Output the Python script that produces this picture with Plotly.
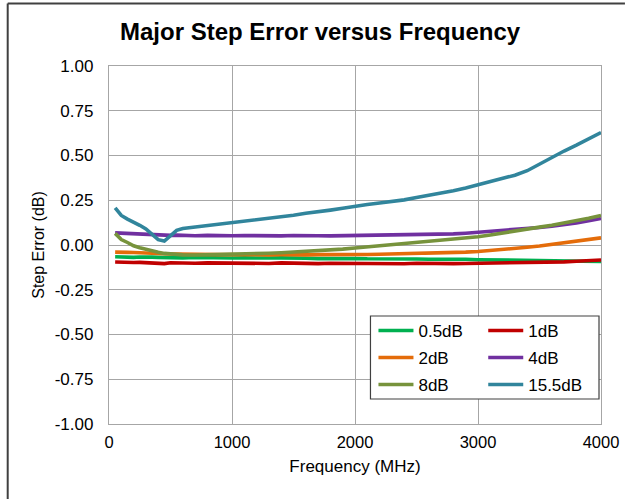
import plotly.graph_objects as go

freq = [50, 100, 150, 200, 250, 300, 350, 400, 450, 500, 550, 600,
        700, 800, 900, 1000, 1100, 1200, 1300, 1400, 1500, 1600, 1700, 1800, 1900, 2000,
        2100, 2200, 2300, 2400, 2500, 2600, 2700, 2800, 2900, 3000,
        3100, 3200, 3300, 3400, 3500, 3600, 3700, 3800, 3900, 4000]

s05 = [-0.066, -0.068, -0.066, -0.069, -0.067, -0.070, -0.068, -0.069, -0.071, -0.069, -0.070, -0.072,
       -0.070, -0.072, -0.071, -0.073, -0.072, -0.074, -0.073, -0.072, -0.075, -0.074, -0.076, -0.074, -0.076, -0.075,
       -0.077, -0.076, -0.078, -0.079, -0.078, -0.080, -0.079, -0.081, -0.080, -0.082,
       -0.083, -0.082, -0.085, -0.084, -0.087, -0.088, -0.089, -0.090, -0.091, -0.092]

s1 = [-0.095, -0.097, -0.096, -0.098, -0.097, -0.099, -0.098, -0.100, -0.104, -0.099, -0.101, -0.100,
      -0.102, -0.100, -0.101, -0.100, -0.102, -0.101, -0.103, -0.100, -0.102, -0.101, -0.104, -0.102, -0.103, -0.101,
      -0.104, -0.102, -0.103, -0.105, -0.102, -0.104, -0.103, -0.104, -0.103, -0.102,
      -0.103, -0.101, -0.102, -0.100, -0.098, -0.097, -0.094, -0.091, -0.088, -0.084]

s2 = [-0.040, -0.038, -0.041, -0.042, -0.044, -0.045, -0.047, -0.048, -0.049, -0.050, -0.051, -0.052,
      -0.052, -0.053, -0.054, -0.053, -0.055, -0.054, -0.055, -0.054, -0.056, -0.055, -0.054, -0.055, -0.054, -0.053,
      -0.053, -0.052, -0.051, -0.050, -0.049, -0.046, -0.045, -0.042, -0.040, -0.036,
      -0.031, -0.026, -0.020, -0.013, -0.006, 0.004, 0.012, 0.020, 0.030, 0.040]

s4 = [0.068, 0.066, 0.064, 0.063, 0.061, 0.059, 0.058, 0.056, 0.055, 0.054, 0.055, 0.053,
      0.052, 0.054, 0.051, 0.052, 0.053, 0.051, 0.052, 0.051, 0.053, 0.050, 0.052, 0.051, 0.052, 0.053,
      0.052, 0.053, 0.054, 0.055, 0.056, 0.058, 0.060, 0.062, 0.066, 0.071,
      0.074, 0.079, 0.085, 0.091, 0.098, 0.105, 0.113, 0.123, 0.135, 0.148]

s8 = [0.065, 0.030, 0.014, -0.004, -0.015, -0.025, -0.034, -0.041, -0.047, -0.051, -0.053, -0.055,
      -0.056, -0.055, -0.054, -0.053, -0.051, -0.048, -0.046, -0.043, -0.040, -0.037, -0.033, -0.028, -0.023, -0.017,
      -0.011, -0.005, 0.001, 0.007, 0.014, 0.021, 0.028, 0.035, 0.040, 0.046,
      0.056, 0.068, 0.077, 0.088, 0.100, 0.110, 0.122, 0.135, 0.149, 0.165]

s155 = [0.208, 0.165, 0.145, 0.130, 0.110, 0.090, 0.058, 0.030, 0.022, 0.052, 0.082, 0.092,
        0.100, 0.108, 0.120, 0.128, 0.133, 0.140, 0.150, 0.158, 0.166, 0.177, 0.184, 0.195, 0.205, 0.218,
        0.226, 0.235, 0.243, 0.252, 0.265, 0.276, 0.290, 0.303, 0.318, 0.337,
        0.355, 0.372, 0.390, 0.415, 0.452, 0.492, 0.525, 0.558, 0.592, 0.628]

names = ["0.5dB", "1dB", "2dB", "4dB", "8dB", "15.5dB"]
colors = ["#00B050", "#C00000", "#E46C0A", "#7030A0", "#77933C", "#31859C"]
series = [s05, s1, s2, s4, s8, s155]

ytick_vals = [-1.0, -0.75, -0.5, -0.25, 0.0, 0.25, 0.5, 0.75, 1.0]
ytick_text = ["-1.00", "-0.75", "-0.50", "-0.25", "0.00", "0.25", "0.50", "0.75", "1.00"]
xtick_vals = [0, 1000, 2000, 3000, 4000]
xtick_text = ["0", "1000", "2000", "3000", "4000"]

FONT = "Liberation Sans, Arial, sans-serif"

# the photographed page is ~631 px wide and scaled to 625 in the picture
S = 631 / 625
FW, FH = 631, 499
L, R, T, B = 108, 601, 66, 424          # plot area in picture pixels
W, H = R - L, B - T
def px(x):
    return (x - L) / W
def py(y):
    return (B - y) / H

leg_names = ["legend", "legend2", "legend3", "legend4", "legend5", "legend6"]
leg_cols = [373, 483]
leg_rows = [331, 358, 385]

fig = go.Figure()
for i, (name, col, ys) in enumerate(zip(names, colors, series)):
    fig.add_trace(go.Scatter(x=freq, y=ys, mode="lines", name=name,
                             line=dict(color=col, width=3.6), legend=leg_names[i]))

grid = "#A6A6A6"
layout_legends = {}
for i, ln in enumerate(leg_names):
    layout_legends[ln] = dict(x=px(leg_cols[i % 2]), y=py(leg_rows[i // 2]),
                              xanchor="left", yanchor="middle",
                              bgcolor="rgba(0,0,0,0)", borderwidth=0,
                              font=dict(size=17), itemwidth=35)

fig.update_layout(
    width=FW, height=FH, autosize=False,
    margin=dict(l=L * S, r=FW - R * S, t=T, b=FH - B),
    paper_bgcolor="white", plot_bgcolor="white",
    font=dict(family=FONT, size=16, color="#000000"),
    title=dict(text="<b>Major Step Error versus Frequency</b>", x=317/625, xanchor="center",
               y=1 - 32/499, yanchor="middle", font=dict(size=24, family=FONT, color="#000000")),
    xaxis=dict(range=[0, 4000], tickvals=xtick_vals, ticktext=xtick_text,
               showgrid=True, gridcolor=grid, gridwidth=1.3,
               showline=True, linecolor=grid, linewidth=1.3, mirror=True,
               ticks="", zeroline=False, tickfont=dict(size=16.5), ticklabelstandoff=3,
               title=dict(text="Frequency (MHz)", font=dict(size=17), standoff=10)),
    yaxis=dict(range=[-1.0, 1.0], tickvals=ytick_vals, ticktext=ytick_text,
               showgrid=True, gridcolor=grid, gridwidth=1.3,
               showline=True, linecolor=grid, linewidth=1.3, mirror=True,
               ticks="", zeroline=False, tickfont=dict(size=17), ticklabelstandoff=11,
               title=dict(text="Step Error (dB)", font=dict(size=16), standoff=6)),
    showlegend=True,
    shapes=[
        dict(type="rect", xref="paper", yref="paper",
             x0=px(370), x1=px(599), y0=py(399), y1=py(316),
             line=dict(color="#404040", width=1.2), fillcolor="white", layer="above"),
        dict(type="line", xref="paper", yref="paper",
             x0=px(6.5), x1=px(6.5), y0=py(3.5), y1=py(499),
             line=dict(color="#404040", width=2)),
        dict(type="line", xref="paper", yref="paper",
             x0=px(6.5), x1=px(625), y0=py(3.5), y1=py(3.5),
             line=dict(color="#404040", width=2)),
    ],
    **layout_legends,
)

fig.write_html("out.html",
               config={"displayModeBar": False, "responsive": False},
               post_script="document.body.style.margin='0';document.body.style.overflow='hidden';")
